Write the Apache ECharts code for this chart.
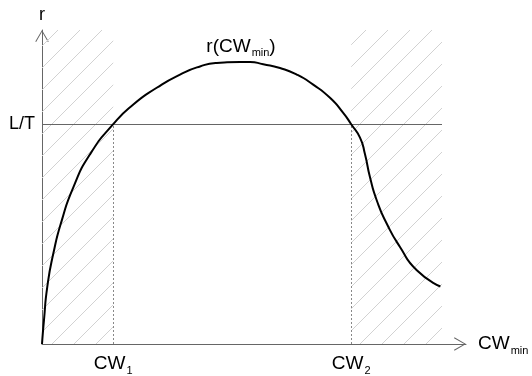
<!DOCTYPE html>
<html>
<head>
<meta charset="utf-8">
<script src="https://cdn.jsdelivr.net/npm/echarts@6/dist/echarts.min.js"></script>
<style>
  html, body { margin: 0; padding: 0; background: #fff; }
  #chart { width: 532px; height: 376px; }
</style>
</head>
<body>
<div id="chart"></div>
<script>
// r as a function of CW_min (schematic units)
const curveX = [0, 0.5, 1.33, 2.83, 4.93, 7.83, 12, 17.8, 22.83, 28.68, 34.5, 39.5, 43.7, 49.5, 52, 55.3, 59.5, 63.7, 67.8, 72, 75.3, 77.3, 79.5, 80.75, 82, 83.7, 86.2, 89.5, 93.7, 99.6];
const curveY = [0, 7.7, 18.3, 28.8, 39.3, 49.9, 60.4, 70, 76.3, 81.6, 85.8, 88.4, 89.5, 89.8, 89.8, 89.1, 87.9, 85.8, 82.6, 78.4, 73.6, 70, 65.7, 60.4, 53.1, 45.7, 38.3, 30.9, 23.5, 18.3];

// threshold level and the two crossing points
const levelValue = 70;
const levelLabel = 'L/T';
const crossX = [17.8, 77.3];
const crossLabels = ['{m|CW}{s|1}', '{m|CW}{s|2}'];
const curveEnd = 100;
const rangeTop = 100;
const peakLabelAt = [49.75, 90];
const peakLabel = '{m|r(CW}{s|min}{m|)}';

// thin open chevron used as the axis arrow head
const chevron = 'path://M0,12 L7,0 L14,12 L13.1,12.5 L7,1.9 L0.9,12.5 Z';

// diagonal hatch tile
function hatchTile() {
  const size = 22;
  const c = document.createElement('canvas');
  c.width = size; c.height = size;
  const g = c.getContext('2d');
  g.strokeStyle = '#d2d2d2';
  g.lineWidth = 1;
  g.beginPath();
  g.moveTo(-1, size + 1);
  g.lineTo(size + 1, -1);
  g.stroke();
  return c;
}

const FONT = 'Liberation Sans, Arial, sans-serif';
const subRich = {
  m: { fontSize: 19, color: '#000', fontFamily: FONT },
  s: { fontSize: 11, color: '#000', fontFamily: FONT, padding: [13, 0, 0, 1] }
};

const chart = echarts.init(document.getElementById('chart'), null, { renderer: 'canvas' });

chart.setOption({
  animation: false,
  backgroundColor: '#fff',
  grid: { left: 42, right: 66, top: 30, bottom: 30 },
  xAxis: {
    type: 'value',
    min: 0,
    max: 106,
    splitLine: { show: false },
    axisTick: { show: false },
    axisLine: {
      onZero: false,
      lineStyle: { color: '#666', width: 1 },
      symbol: ['none', chevron],
      symbolSize: [15, 12],
      symbolOffset: [0, -6]
    },
    axisLabel: {
      customValues: crossX,
      margin: 8,
      formatter: function (v) {
        const i = crossX.indexOf(v);
        return i >= 0 ? crossLabels[i] : '';
      },
      rich: subRich
    },
    name: '{m|CW}{s|min}',
    nameLocation: 'end',
    nameGap: 12,
    nameTextStyle: { rich: subRich }
  },
  yAxis: {
    type: 'value',
    min: 0,
    max: rangeTop,
    splitLine: { show: false },
    axisTick: { show: false },
    axisLine: {
      onZero: false,
      lineStyle: { color: '#666', width: 1 },
      symbol: ['none', chevron],
      symbolSize: [14, 12],
      symbolOffset: [0, -6]
    },
    axisLabel: {
      customValues: [levelValue],
      margin: 7,
      color: '#000',
      fontSize: 18,
      fontFamily: FONT,
      formatter: function (v) { return v === levelValue ? levelLabel : ''; }
    },
    name: 'r',
    nameLocation: 'end',
    nameGap: 6,
    nameTextStyle: { color: '#000', fontSize: 18, fontFamily: FONT, align: 'center' }
  },
  series: [
    {
      type: 'line',
      data: curveX.map((x, i) => [x, curveY[i]]),
      smooth: 0.6,
      showSymbol: false,
      symbol: 'none',
      lineStyle: { color: '#000', width: 2 },
      z: 5,
      markArea: {
        silent: true,
        label: { show: false },
        itemStyle: { color: { image: hatchTile(), repeat: 'repeat' }, borderWidth: 0 },
        data: [
          [{ coord: [0, 0] }, { coord: [crossX[0], rangeTop] }],
          [{ coord: [crossX[1], 0] }, { coord: [curveEnd, rangeTop] }]
        ]
      },
      markLine: {
        silent: true,
        symbol: ['none', 'none'],
        label: { show: false },
        data: [
          [{ coord: [0, levelValue], lineStyle: { type: 'solid', color: '#666', width: 1 } },
           { coord: [curveEnd, levelValue] }],
          [{ coord: [crossX[0], 0], lineStyle: { type: [2, 2], color: '#888', width: 1 } },
           { coord: [crossX[0], levelValue] }],
          [{ coord: [crossX[1], 0], lineStyle: { type: [2, 2], color: '#888', width: 1 } },
           { coord: [crossX[1], levelValue] }]
        ]
      },
      markPoint: {
        silent: true,
        symbol: 'circle',
        symbolSize: 0,
        data: [{ coord: peakLabelAt }],
        label: {
          show: true,
          position: 'inside',
          offset: [0, -15],
          formatter: peakLabel,
          rich: subRich
        }
      }
    }
  ]
});
</script>
</body>
</html>
